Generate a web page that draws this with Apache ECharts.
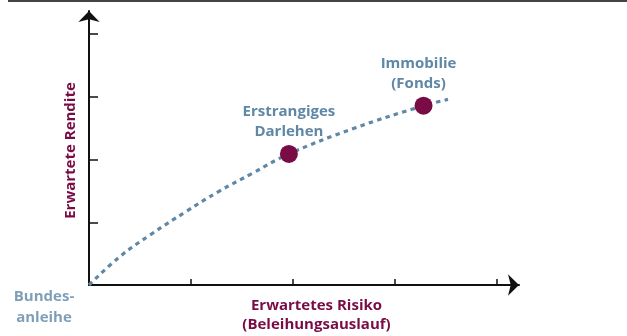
<!DOCTYPE html>
<html>
<head>
<meta charset="utf-8">
<script src="https://cdn.jsdelivr.net/npm/echarts@6/dist/echarts.min.js"></script>
<style>html,body{margin:0;padding:0;background:#fff}#c{width:627px;height:336px}</style>
</head>
<body>
<div id="c"></div>
<script>
// Frontier curve (risk, return) in axis units
const curveX = [0, 0.3, 0.6, 0.95, 1.27, 1.6, 1.96, 2.6, 3.28, 3.52];
const curveY = [0, 0.45, 0.8, 1.17, 1.49, 1.78, 2.09, 2.5, 2.86, 2.96];
// Highlighted investments
const pointNames = ['Erstrangiges\nDarlehen', 'Immobilie\n(Fonds)'];
const pointX = [1.96, 3.28];
const pointY = [2.09, 2.86];
// Origin label
const originName = 'Bundes-\nanleihe';
// Axis ticks
const xTicks = [1, 2, 3, 4];
const yTicks = [1, 2, 3, 4];
const xName = 'Erwartetes Risiko\n(Beleihungsauslauf)';
const yName = 'Erwartete Rendite';

const BLUE = '#5f87a6';
const MAROON = '#7a0c45';
const FONT = 'Open Sans';
const FS = 15;

const chart = echarts.init(document.getElementById('c'), null, {renderer: 'canvas'});
chart.setOption({
  animation: false,
  grid: {left: 89, right: 108, top: 11, bottom: 51, containLabel: false, outerBoundsMode: 'none'},
  xAxis: {
    type: 'value', min: 0, max: 4.216,
    axisLine: {show: true, lineStyle: {color: '#111', width: 2}, symbol: ['none', 'arrow'], symbolSize: [16, 11]},
    axisTick: {show: true, inside: true, length: 6, customValues: xTicks, lineStyle: {color: '#111', width: 1.5}},
    axisLabel: {show: false},
    splitLine: {show: false},
    name: xName, nameLocation: 'middle', nameGap: 11,
    nameTextStyle: {color: MAROON, fontFamily: FONT, fontWeight: 'bold', fontSize: FS, lineHeight: 19, padding: [0, 0, 0, 25]}
  },
  yAxis: {
    type: 'value', min: 0, max: 4.37,
    axisLine: {show: true, lineStyle: {color: '#111', width: 2}, symbol: ['none', 'arrow'], symbolSize: [16, 11]},
    axisTick: {show: true, inside: true, length: 9, customValues: yTicks, lineStyle: {color: '#111', width: 1.5}},
    axisLabel: {show: false},
    splitLine: {show: false},
    name: yName, nameLocation: 'middle', nameRotate: 90, nameGap: 11,
    nameTextStyle: {color: MAROON, fontFamily: FONT, fontWeight: 'bold', fontSize: FS, padding: [0, 5, 0, 0]}
  },
  graphic: [{
    type: 'line', shape: {x1: 8, y1: 1, x2: 627, y2: 1},
    style: {stroke: '#444', lineWidth: 2}
  }],
  series: [{
    type: 'line', smooth: 0.4, symbol: 'none',
    data: curveX.map((x, i) => [x, curveY[i]]),
    lineStyle: {color: BLUE, width: 3.2, type: [4.5, 4.3]},
    z: 2
  }, {
    type: 'scatter', symbolSize: 18,
    itemStyle: {color: MAROON, opacity: 1},
    data: pointX.map((x, i) => ({
      value: [x, pointY[i]], name: pointNames[i],
      label: {offset: i === 1 ? [-5, 0] : [0, 0]}
    })),
    label: {show: true, position: 'top', distance: 3, formatter: p => p.name,
      color: BLUE, fontFamily: FONT, fontWeight: 'bold', fontSize: FS, lineHeight: 20, align: 'center'},
    z: 3
  }, {
    type: 'scatter', symbolSize: 0,
    data: [{value: [0, 0], name: originName}],
    label: {show: true, position: 'bottom', distance: 1, offset: [-45, 0], formatter: p => p.name,
      color: BLUE, fontFamily: FONT, fontWeight: 'bold', fontSize: FS, lineHeight: 21, align: 'center'},
    silent: true
  }]
});
</script>
</body>
</html>
